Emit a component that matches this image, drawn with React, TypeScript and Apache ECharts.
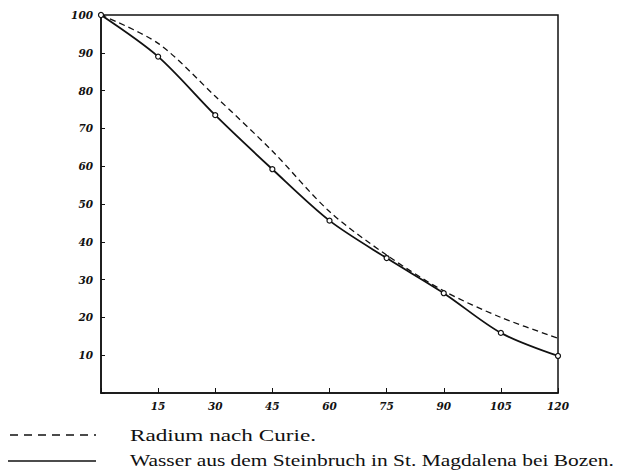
import React, { useEffect, useRef } from "react";
import * as echarts from "echarts";

const minutes = [0, 15, 30, 45, 60, 75, 90, 105, 120];
const radiumCurie = [100, 92.5, 78.5, 64, 48, 36.5, 27, 20, 14.5];
const wasserMagdalena = [100, 89, 73.5, 59.2, 45.6, 35.7, 26.4, 15.9, 9.8];
const legendRadium = "Radium nach Curie.";
const legendWasser = "Wasser aus dem Steinbruch in St. Magdalena bei Bozen.";

export default function App() {
  const ref = useRef<HTMLDivElement>(null);
  useEffect(() => {
    if (!ref.current) return;
    const chart = echarts.init(ref.current, undefined, { renderer: "svg" });
    const tickFont = {
      fontFamily: "DejaVu Serif",
      fontStyle: "italic",
      fontWeight: "bold",
      fontSize: 10.5,
      color: "#111",
    };
    chart.setOption({
      animation: false,
      backgroundColor: "#fff",
      grid: {
        left: 101,
        right: 64,
        top: 15,
        bottom: 83,
        show: true,
        borderColor: "#111",
        borderWidth: 1.5,
      },
      xAxis: {
        type: "value",
        min: 0,
        max: 120,
        interval: 15,
        splitLine: { show: false },
        axisLine: { lineStyle: { color: "#111", width: 1.5 } },
        axisTick: { inside: true, length: 5, lineStyle: { color: "#111" } },
        axisLabel: {
          ...tickFont,
          margin: 7,
          formatter: (v: number) => (v === 0 ? "" : String(v)),
        },
      },
      yAxis: {
        type: "value",
        min: 0,
        max: 100,
        interval: 10,
        splitLine: { show: false },
        axisLine: { lineStyle: { color: "#111", width: 1.5 } },
        axisTick: { inside: true, length: 4, lineStyle: { color: "#111" } },
        axisLabel: {
          ...tickFont,
          margin: 8,
          formatter: (v: number) => (v === 0 ? "" : String(v)),
        },
      },
      series: [
        {
          name: legendRadium,
          type: "line",
          data: minutes.map((m, i) => [m, radiumCurie[i]]),
          smooth: 0.3,
          showSymbol: false,
          lineStyle: { color: "#111", width: 1.3, type: [6, 4] },
        },
        {
          name: legendWasser,
          type: "line",
          data: minutes.map((m, i) => [m, wasserMagdalena[i]]),
          smooth: 0.3,
          symbol: "circle",
          symbolSize: 5,
          itemStyle: { color: "#fff", borderColor: "#111", borderWidth: 1.2 },
          lineStyle: { color: "#111", width: 1.8 },
        },
      ],
      graphic: [
        {
          type: "line",
          shape: { x1: 10, y1: 435, x2: 96, y2: 435 },
          style: { stroke: "#111", lineWidth: 1.3, lineDash: [8, 6] },
        },
        {
          type: "text",
          x: 130,
          y: 435,
          scaleX: 1.45,
          style: {
            text: legendRadium,
            fontFamily: "Liberation Serif",
            fontSize: 16,
            fill: "#111",
            verticalAlign: "middle",
          },
        },
        {
          type: "line",
          shape: { x1: 8, y1: 461, x2: 96, y2: 461 },
          style: { stroke: "#111", lineWidth: 1.3 },
        },
        {
          type: "text",
          x: 130,
          y: 461,
          scaleX: 1.34,
          style: {
            text: legendWasser,
            fontFamily: "Liberation Serif",
            fontSize: 16,
            fill: "#111",
            verticalAlign: "middle",
          },
        },
      ],
    });
    return () => chart.dispose();
  }, []);
  return (
    <div
      ref={ref}
      style={{ position: "fixed", left: 0, top: 0, width: 622, height: 476 }}
    />
  );
}
